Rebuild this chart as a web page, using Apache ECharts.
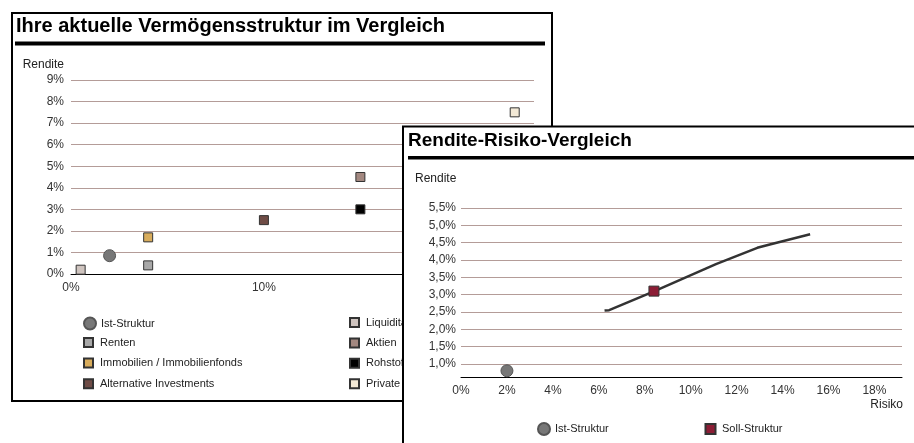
<!DOCTYPE html>
<html><head><meta charset="utf-8">
<script src="https://cdn.jsdelivr.net/npm/echarts@6/dist/echarts.min.js"></script>
<style>html,body{margin:0;padding:0;background:#fff}#c{width:914px;height:443px}</style>
</head><body><div id="c"></div>
<script>
// ---- Left chart: Ihre aktuelle Vermögensstruktur im Vergleich ----
const leftNames = ['Ist-Struktur', 'Liquidität', 'Renten', 'Aktien', 'Immobilien / Immobilienfonds', 'Rohstoffe', 'Alternative Investments', 'Private Equity'];
const leftRisk = [2.0, 0.5, 4.0, 15.0, 4.0, 15.0, 10.0, 23.0];      // Risiko in %
const leftReturn = [0.85, 0.2, 0.4, 4.5, 1.7, 3.0, 2.5, 7.5];        // Rendite in %
const leftLegendCol1 = ['Renten', 'Immobilien / Immobilienfonds', 'Alternative Investments'];
const leftLegendCol2 = ['Liquidität', 'Aktien', 'Rohstoffe', 'Private Equity'];

// ---- Right chart: Rendite-Risiko-Vergleich ----
const frontierRisk = [6.25, 6.45, 8.4, 11.1, 12.9, 13.4, 15.2];
const frontierReturn = [2.54, 2.55, 3.09, 3.88, 4.35, 4.44, 4.74];
const rightNames = ['Ist-Struktur', 'Soll-Struktur'];
const rightRisk = [2.0, 8.4];
const rightReturn = [0.8, 3.1];

// styles (kept apart from data)
const colorOf = {
  'Ist-Struktur': '#777777',
  'Liquidität': '#cfc4bf',
  'Renten': '#a8a8a8',
  'Aktien': '#a38880',
  'Immobilien / Immobilienfonds': '#d8ac5c',
  'Rohstoffe': '#000000',
  'Alternative Investments': '#6f4c46',
  'Private Equity': '#f3e9d6',
  'Soll-Struktur': '#8c1d35'
};
const FONT = '"Liberation Sans", Arial, sans-serif';
const GRIDC = '#b49c98';
const SQ = 'path://M0,0L9,0L9,9L0,9Z';

const chart = echarts.init(document.getElementById('c'), null, {renderer: 'canvas'});

const series = [];
leftNames.forEach((n, i) => {
  const circ = n === 'Ist-Struktur';
  series.push({
    type: 'scatter', name: n, xAxisIndex: 0, yAxisIndex: 0, z: 3,
    symbol: circ ? 'circle' : 'rect', symbolSize: circ ? 12 : 9,
    itemStyle: {color: colorOf[n], borderColor: circ ? '#555' : '#333', borderWidth: 1, opacity: 1},
    data: [[leftRisk[i], leftReturn[i]]]
  });
});
series.push({
  type: 'line', name: 'Linie', xAxisIndex: 1, yAxisIndex: 1, z: 7,
  symbol: 'none', lineStyle: {color: '#333', width: 2.5},
  data: frontierRisk.map((x, i) => [x, frontierReturn[i]])
});
rightNames.forEach((n, i) => {
  const circ = n === 'Ist-Struktur';
  series.push({
    type: 'scatter', name: n, xAxisIndex: 1, yAxisIndex: 1, z: 8,
    symbol: circ ? 'circle' : 'rect', symbolSize: circ ? 12 : 10,
    itemStyle: {color: colorOf[n], borderColor: circ ? '#555' : '#333', borderWidth: 1, opacity: 1},
    data: [[rightRisk[i], rightReturn[i]]]
  });
});

const legendText = {fontSize: 11, color: '#222', fontFamily: FONT};
const option = {
  animation: false,
  backgroundColor: '#fff',
  grid: [
    {left: 71, right: 380, top: 80, bottom: 169, containLabel: false, outerBoundsMode: 'none'},
    {left: 461, right: 12, top: 208, bottom: 66, containLabel: false, outerBoundsMode: 'none'}
  ],
  xAxis: [
    {type: 'value', gridIndex: 0, min: 0, max: 24, interval: 10, z: 2,
     axisLine: {show: true, lineStyle: {color: '#000', width: 1}}, axisTick: {show: false},
     splitLine: {show: false},
     axisLabel: {formatter: v => v + '%', showMaxLabel: false, color: '#333', fontSize: 12, fontFamily: FONT, margin: 8}},
    {type: 'value', gridIndex: 1, min: 0, max: 19.2, interval: 2, z: 6,
     axisLine: {show: true, lineStyle: {color: '#000', width: 1}}, axisTick: {show: false},
     splitLine: {show: false},
     axisLabel: {formatter: v => v + '%', showMaxLabel: false, color: '#333', fontSize: 12, fontFamily: FONT, margin: 8}}
  ],
  yAxis: [
    {type: 'value', gridIndex: 0, min: 0, max: 9, interval: 1, z: 2,
     axisLine: {show: false}, axisTick: {show: false},
     splitLine: {show: true, lineStyle: {color: GRIDC, width: 1}},
     axisLabel: {formatter: v => v + '%', color: '#333', fontSize: 12, fontFamily: FONT, margin: 7}},
    {type: 'value', gridIndex: 1, min: 0.62, max: 5.5, splitNumber: 10, minInterval: 0.5, maxInterval: 0.5, z: 6,
     axisLine: {show: false}, axisTick: {show: false},
     splitLine: {show: true, lineStyle: {color: GRIDC, width: 1}},
     axisLabel: {formatter: v => v.toFixed(1).replace('.', ',') + '%', showMinLabel: false, color: '#333', fontSize: 12, fontFamily: FONT, margin: 5}}
  ],
  legend: [
    {data: [{name: 'Ist-Struktur', icon: 'circle'}], left: 83, top: 316.5, orient: 'vertical', padding: 0,
     itemWidth: 12, itemHeight: 12, textStyle: legendText, z: 3, selectedMode: false},
    {data: leftLegendCol1.map(n => ({name: n, icon: SQ})), left: 83, top: 337, orient: 'vertical', padding: 0,
     itemWidth: 13, itemHeight: 9, itemGap: 9.6, textStyle: legendText, z: 3, selectedMode: false},
    {data: leftLegendCol2.map(n => ({name: n, icon: SQ})), left: 349, top: 317, orient: 'vertical', padding: 0,
     itemWidth: 13, itemHeight: 9, itemGap: 9.4, textStyle: legendText, z: 3, selectedMode: false},
    {data: [{name: 'Ist-Struktur', icon: 'circle'}], left: 537, top: 422, orient: 'horizontal', padding: 0,
     itemWidth: 12, itemHeight: 12, textStyle: legendText, z: 9, selectedMode: false},
    {data: [{name: 'Soll-Struktur', icon: SQ}], left: 704.5, top: 423, orient: 'horizontal', padding: 0,
     itemWidth: 13, itemHeight: 10, textStyle: legendText, z: 9, selectedMode: false}
  ],
  graphic: {
    elements: [
      {type: 'rect', z: 1, shape: {x: 12, y: 13, width: 540, height: 388},
       style: {fill: '#fff', stroke: '#000', lineWidth: 2}},
      {type: 'text', z: 3, style: {text: 'Ihre aktuelle Vermögensstruktur im Vergleich', x: 16, y: 26,
       textVerticalAlign: 'middle', font: 'bold 20px ' + FONT, fill: '#000'}},
      {type: 'rect', z: 3, shape: {x: 15, y: 41.5, width: 530, height: 4}, style: {fill: '#000'}},
      {type: 'text', z: 3, style: {text: 'Rendite', x: 64, y: 65, textAlign: 'right',
       textVerticalAlign: 'middle', font: '12px ' + FONT, fill: '#222'}},

      {type: 'rect', z: 5, shape: {x: 403, y: 126.5, width: 620, height: 400},
       style: {fill: '#fff', stroke: '#000', lineWidth: 2}},
      {type: 'text', z: 9, style: {text: 'Rendite-Risiko-Vergleich', x: 408, y: 141,
       textVerticalAlign: 'middle', font: 'bold 19px ' + FONT, fill: '#000'}},
      {type: 'rect', z: 9, shape: {x: 408, y: 156, width: 506, height: 3.5}, style: {fill: '#000'}},
      {type: 'text', z: 9, style: {text: 'Rendite', x: 415, y: 179,
       textVerticalAlign: 'middle', font: '12px ' + FONT, fill: '#222'}},
      {type: 'text', z: 9, style: {text: 'Risiko', x: 903, y: 405, textAlign: 'right',
       textVerticalAlign: 'middle', font: '12px ' + FONT, fill: '#222'}}
    ]
  },
  series: series
};
chart.setOption(option);
</script></body></html>
